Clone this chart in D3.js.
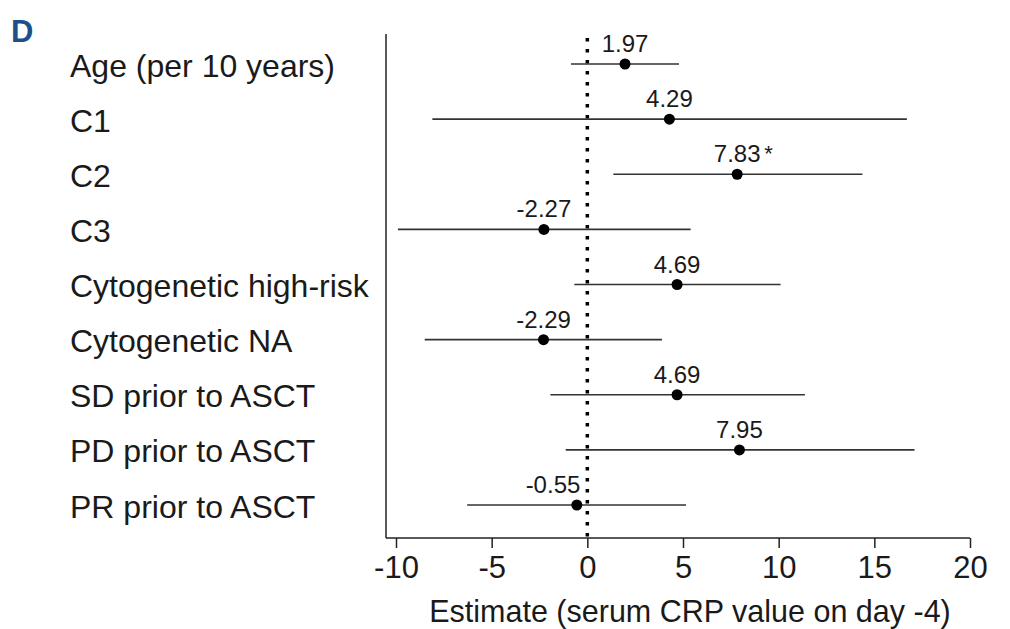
<!DOCTYPE html>
<html>
<head>
<meta charset="utf-8">
<script src="https://cdn.jsdelivr.net/npm/d3@7"></script>
<style>
  body { margin: 0; background: #fff; }
  svg { font-family: "Liberation Sans", Arial, Helvetica, sans-serif; }
</style>
</head>
<body>
<svg id="chart" width="1010" height="629"></svg>
<script>
var categories = ["Age (per 10 years)", "C1", "C2", "C3", "Cytogenetic high-risk",
  "Cytogenetic NA", "SD prior to ASCT", "PD prior to ASCT", "PR prior to ASCT"];
var estimates = [1.97, 4.29, 7.83, -2.27, 4.69, -2.29, 4.69, 7.95, -0.55];
var lower = [-0.85, -8.1, 1.36, -9.9, -0.68, -8.5, -1.93, -1.13, -6.28];
var upper = [4.79, 16.7, 14.38, 5.4, 10.1, 3.9, 11.37, 17.1, 5.16];
var marks = ["", "", "*", "", "", "", "", "", ""];
var xTicks = [-10, -5, 0, 5, 10, 15, 20];

var rows = categories.map((c, i) => ({
  name: c, est: estimates[i], lo: lower[i], hi: upper[i], mark: marks[i]
}));

var svg = d3.select("#chart");
var panel = { left: 386, top: 34, bottom: 538 };

var xScale = d3.scaleLinear()
  .domain([-10, 20])
  .range([396, 970]);

var yScale = d3.scalePoint()
  .domain(categories)
  .range([64, 505]);

// panel letter
svg.append("text")
  .attr("x", 11)
  .attr("y", 42)
  .attr("font-size", 31)
  .attr("font-weight", "bold")
  .attr("fill", "#1d4f8f")
  .text("D");

// category labels
svg.append("g")
  .selectAll("text")
  .data(rows)
  .join("text")
  .attr("x", 70)
  .attr("y", d => yScale(d.name) + 12.5)
  .attr("font-size", 32)
  .attr("fill", "#1a1a1a")
  .text(d => d.name);

// axes
svg.append("line")
  .attr("x1", panel.left).attr("x2", panel.left)
  .attr("y1", panel.top).attr("y2", panel.bottom)
  .attr("stroke", "#222").attr("stroke-width", 1.5);

var xAxis = d3.axisBottom(xScale)
  .tickValues(xTicks)
  .tickFormat(d => String(d))
  .tickSize(10)
  .tickPadding(8)
  .tickSizeOuter(0);

var gx = svg.append("g")
  .attr("transform", `translate(0, ${panel.bottom})`)
  .call(xAxis)
  .attr("font-family", "");

gx.select(".domain")
  .attr("d", `M${panel.left},0H${xScale(20)}`)
  .attr("stroke", "#222").attr("stroke-width", 1.5);
gx.selectAll(".tick line").attr("stroke", "#222").attr("stroke-width", 1.5);
gx.selectAll(".tick text")
  .attr("font-size", 31)
  .attr("fill", "#1a1a1a");

svg.append("text")
  .attr("x", (xScale(-10) + xScale(20)) / 2 + 7)
  .attr("y", 622)
  .attr("text-anchor", "middle")
  .attr("font-size", 30.5)
  .attr("fill", "#1a1a1a")
  .text("Estimate (serum CRP value on day -4)");

// reference line at zero
svg.append("line")
  .attr("x1", xScale(0)).attr("x2", xScale(0))
  .attr("y1", panel.top + 4).attr("y2", panel.bottom)
  .attr("stroke", "#000")
  .attr("stroke-width", 3.5)
  .attr("stroke-dasharray", "3.5,7.5");

// confidence intervals
svg.append("g")
  .selectAll("line")
  .data(rows)
  .join("line")
  .attr("x1", d => xScale(d.lo))
  .attr("x2", d => xScale(d.hi))
  .attr("y1", d => yScale(d.name))
  .attr("y2", d => yScale(d.name))
  .attr("stroke", "#333")
  .attr("stroke-width", 1.6);

// point estimates
svg.append("g")
  .selectAll("circle")
  .data(rows)
  .join("circle")
  .attr("cx", d => xScale(d.est))
  .attr("cy", d => yScale(d.name))
  .attr("r", 5.5)
  .attr("fill", "#000");

// value labels, centred on the point unless that would cross the zero line
var labels = svg.append("g")
  .selectAll("text")
  .data(rows)
  .join("text")
  .attr("x", d => xScale(d.est))
  .attr("y", d => yScale(d.name) - 12)
  .attr("text-anchor", "middle")
  .attr("font-size", 24)
  .attr("fill", "#1a1a1a")
  .text(d => d.est.toFixed(2));

labels.each(function (d) {
  let w = this.getComputedTextLength();
  let cx = xScale(d.est);
  let zero = xScale(0);
  if (cx - w / 2 < zero && cx + w / 2 > zero) {
    d3.select(this)
      .attr("text-anchor", "end")
      .attr("x", zero - 7);
  }
});

// significance marks placed after the number
svg.append("g")
  .selectAll("text")
  .data(rows.filter(d => d.mark))
  .join("text")
  .attr("x", d => xScale(d.est) + 27)
  .attr("y", d => yScale(d.name) - 13)
  .attr("font-size", 22)
  .attr("fill", "#1a1a1a")
  .text(d => d.mark);
</script>
</body>
</html>
